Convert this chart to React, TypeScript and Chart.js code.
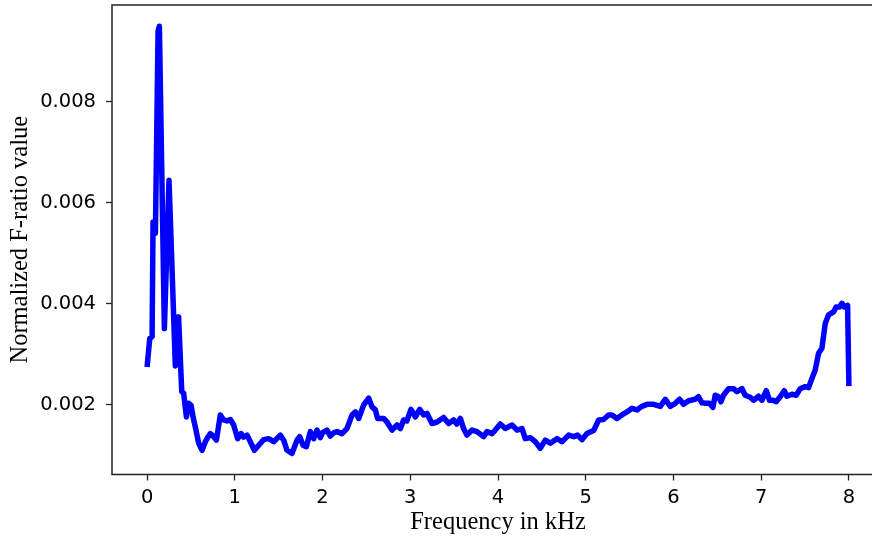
import { useEffect, useRef } from "react";
import { Chart, registerables } from "chart.js";

Chart.register(...registerables);

// Frequency axis (kHz) and the normalized F-ratio measured at each frequency
const freqKHz = [
  0.0, 0.03, 0.057, 0.068, 0.095, 0.125, 0.14, 0.197, 0.25, 0.322,
  0.353, 0.36, 0.395, 0.417, 0.448, 0.474, 0.501, 0.524, 0.55, 0.588,
  0.627, 0.664, 0.7, 0.721, 0.759, 0.79, 0.835, 0.873, 0.91, 0.949,
  0.987, 1.033, 1.071, 1.1, 1.14, 1.177, 1.223, 1.272, 1.329, 1.386,
  1.443, 1.519, 1.557, 1.595, 1.652, 1.709, 1.739, 1.778, 1.815, 1.861,
  1.899, 1.937, 1.975, 2.0, 2.051, 2.089, 2.13, 2.165, 2.222, 2.279,
  2.336, 2.374, 2.412, 2.469, 2.526, 2.564, 2.602, 2.628, 2.697, 2.735,
  2.792, 2.849, 2.887, 2.924, 2.96, 3.008, 3.058, 3.107, 3.152, 3.191,
  3.248, 3.305, 3.38, 3.437, 3.494, 3.53, 3.571, 3.608, 3.646, 3.704,
  3.761, 3.836, 3.875, 3.932, 3.969, 4.026, 4.083, 4.16, 4.217, 4.274,
  4.311, 4.368, 4.425, 4.482, 4.539, 4.596, 4.672, 4.729, 4.805, 4.862,
  4.907, 4.957, 5.014, 5.09, 5.147, 5.203, 5.26, 5.3, 5.356, 5.413,
  5.47, 5.527, 5.584, 5.641, 5.698, 5.774, 5.85, 5.907, 5.964, 6.021,
  6.07, 6.115, 6.172, 6.248, 6.286, 6.325, 6.362, 6.41, 6.45, 6.476,
  6.514, 6.541, 6.571, 6.628, 6.685, 6.724, 6.781, 6.818, 6.875, 6.913,
  6.97, 7.008, 7.058, 7.095, 7.135, 7.171, 7.217, 7.263, 7.293, 7.35,
  7.399, 7.445, 7.502, 7.54, 7.578, 7.616, 7.654, 7.692, 7.73, 7.768,
  7.825, 7.855, 7.893, 7.92, 7.946, 7.985, 8.0,
];

const fRatio = [
  0.00275, 0.00331, 0.00335, 0.00562, 0.0054, 0.0094, 0.0095, 0.00351, 0.00645, 0.00277,
  0.00374, 0.0037, 0.00226, 0.00223, 0.00176, 0.00203, 0.00199, 0.00176, 0.00156, 0.00124,
  0.0011, 0.00127, 0.00138, 0.00143, 0.00137, 0.0013, 0.0018, 0.0017, 0.00168, 0.00171,
  0.0016, 0.00133, 0.00143, 0.00136, 0.0014, 0.00127, 0.0011, 0.0012, 0.00131, 0.00133,
  0.00127, 0.0014, 0.0013, 0.0011, 0.00104, 0.0013, 0.00137, 0.0012, 0.00117, 0.00147,
  0.00133, 0.0015, 0.00135, 0.00145, 0.0015, 0.00138, 0.00145, 0.00147, 0.00143, 0.00153,
  0.0018, 0.00186, 0.00173, 0.002, 0.00213, 0.00196, 0.0019, 0.00173, 0.00173, 0.00166,
  0.0015, 0.0016, 0.00153, 0.0017, 0.00168, 0.00191, 0.00176, 0.00191, 0.0018, 0.00183,
  0.00163, 0.00166, 0.00175, 0.00163, 0.0017, 0.00162, 0.00173, 0.00153, 0.0014, 0.0015,
  0.00147, 0.00137, 0.00147, 0.00143, 0.0015, 0.00162, 0.00153, 0.0016, 0.0015, 0.00153,
  0.00133, 0.00135, 0.00127, 0.00114, 0.0013, 0.00124, 0.00133, 0.00127, 0.0014, 0.00137,
  0.0014, 0.00131, 0.00143, 0.00149, 0.0017, 0.00171, 0.0018, 0.0018, 0.00173, 0.0018,
  0.00186, 0.00193, 0.0019, 0.00197, 0.00201, 0.00201, 0.00197, 0.00211, 0.00197, 0.00203,
  0.00211, 0.00201, 0.00208, 0.00211, 0.00216, 0.00204, 0.00203, 0.00203, 0.00195, 0.00219,
  0.00216, 0.00206, 0.00219, 0.00232, 0.00232, 0.00226, 0.00232, 0.00219, 0.00215, 0.00209,
  0.00217, 0.00209, 0.00228, 0.00209, 0.00209, 0.00206, 0.00216, 0.00228, 0.00217, 0.00221,
  0.00219, 0.00232, 0.00236, 0.00234, 0.00252, 0.00269, 0.00302, 0.00312, 0.00361, 0.00378,
  0.00384, 0.00394, 0.00394, 0.00401, 0.00394, 0.00397, 0.00237,
];

const xTickValues = [0, 1, 2, 3, 4, 5, 6, 7, 8];
const yTickValues = [0.002, 0.004, 0.006, 0.008];

const X_MIN = -0.4;
const X_MAX = 8.4;
const Y_MIN = 0.00062;
const Y_MAX = 0.00992;

const tickFont = { family: "'DejaVu Sans', sans-serif", size: 19.5 };
const titleFont = { family: "'Liberation Serif', 'Times New Roman', serif", size: 24.5, lineHeight: 1.2 };

// Draws the axes frame over the plotted line
const frame = {
  id: "frame",
  afterDraw(chart: any) {
    const { ctx, chartArea } = chart;
    const { left, top, right, bottom } = chartArea;
    ctx.save();
    ctx.strokeStyle = "#222222";
    ctx.lineWidth = 1.5;
    ctx.strokeRect(left, top, right - left, bottom - top);
    ctx.restore();
  },
};

export default function App() {
  const canvasRef = useRef<HTMLCanvasElement>(null);

  useEffect(() => {
    const canvas = canvasRef.current;
    if (!canvas) return;
    const points = freqKHz.map((x, i) => ({ x, y: fRatio[i] }));

    const chart = new Chart(canvas, {
      type: "line",
      data: {
        datasets: [
          {
            data: points,
            borderColor: "#0000ff",
            borderWidth: 5.5,
            pointRadius: 0,
            borderJoinStyle: "round",
            borderCapStyle: "butt",
            tension: 0,
            fill: false,
          },
        ],
      },
      options: {
        animation: false,
        responsive: false,
        maintainAspectRatio: false,
        layout: { padding: { top: 5, right: 6, bottom: 0, left: 0 } },
        plugins: {
          legend: { display: false },
          tooltip: { enabled: false },
        },
        scales: {
          x: {
            type: "linear",
            min: X_MIN,
            max: X_MAX,
            afterBuildTicks: (scale: any) => {
              scale.ticks = xTickValues.map((value) => ({ value }));
            },
            afterFit: (scale: any) => {
              scale.height = 62.5;
              scale.paddingLeft = 0;
              scale.paddingRight = 0;
            },
            grid: {
              display: true,
              drawOnChartArea: false,
              drawTicks: true,
              tickLength: 6,
              tickWidth: 1.3,
              tickColor: "#222222",
            },
            border: { display: false },
            ticks: {
              font: tickFont,
              color: "#000000",
              padding: 6,
              maxRotation: 0,
              autoSkip: false,
              callback: (value: any) => String(value),
            },
            title: {
              display: true,
              text: "Frequency in kHz",
              font: titleFont,
              color: "#000000",
              padding: { top: 0, bottom: 0 },
            },
          },
          y: {
            type: "linear",
            min: Y_MIN,
            max: Y_MAX,
            afterBuildTicks: (scale: any) => {
              scale.ticks = yTickValues.map((value) => ({ value }));
            },
            afterFit: (scale: any) => {
              scale.width = 112;
              scale.paddingTop = 0;
              scale.paddingBottom = 0;
            },
            grid: {
              display: true,
              drawOnChartArea: false,
              drawTicks: true,
              tickLength: 6,
              tickWidth: 1.3,
              tickColor: "#222222",
            },
            border: { display: false },
            ticks: {
              font: tickFont,
              color: "#000000",
              padding: 10,
              autoSkip: false,
              callback: (value: any) => Number(value).toFixed(3),
            },
            title: {
              display: true,
              text: "Normalized F-ratio value",
              font: titleFont,
              color: "#000000",
              padding: { top: 6, bottom: 0 },
            },
          },
        },
      },
      plugins: [frame],
    });

    return () => chart.destroy();
  }, []);

  return (
    <div
      style={{
        position: "fixed",
        left: 0,
        top: 0,
        width: 872,
        height: 537,
        overflow: "hidden",
        background: "#ffffff",
      }}
    >
      <canvas
        ref={canvasRef}
        width={890}
        height={537}
        style={{ display: "block", width: 890, height: 537 }}
      />
    </div>
  );
}
